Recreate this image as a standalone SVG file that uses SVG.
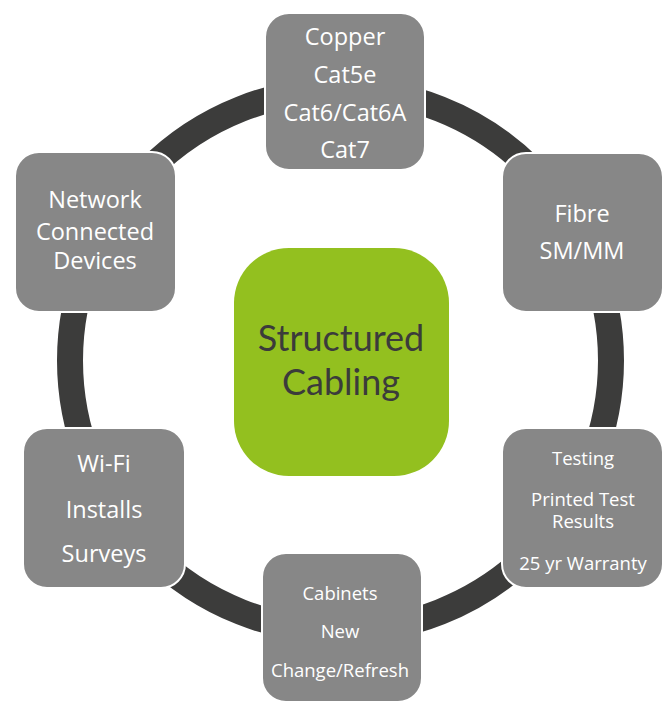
<svg xmlns="http://www.w3.org/2000/svg" width="666" height="704" viewBox="0 0 666 704">
<style>
.box{fill:#878787;stroke:#ffffff;stroke-width:2}
.t{font-family:"Open Sans","Noto Sans",sans-serif;fill:#ffffff;text-anchor:middle}
.big{font-size:23.5px}
.sm{font-size:18.5px}
.xs{font-size:18.5px}
.ct{font-family:Lato,"Open Sans",sans-serif;font-size:36px;fill:#3b3b3b;text-anchor:middle}
</style>
<rect width="666" height="704" fill="#ffffff"/>
<g id="connectors">
<circle cx="340.5" cy="360.5" r="270.5" fill="none" stroke="#3c3c3b" stroke-width="26"/>
</g>
<g id="center">
<rect x="234" y="248" width="215" height="228" rx="55" fill="#93c01f"/>
<text class="ct" x="341" y="351">Structured</text>
<text class="ct" x="341" y="395">Cabling</text>
</g>
<g id="copper">
<rect class="box" x="265" y="13" width="160" height="157" rx="24"/>
<text class="t big" x="345" y="45">Copper</text>
<text class="t big" x="345" y="83">Cat5e</text>
<text class="t big" x="345" y="121">Cat6/Cat6A</text>
<text class="t big" x="345" y="158">Cat7</text>
</g>
<g id="fibre">
<rect class="box" x="502" y="153" width="161" height="159" rx="24"/>
<text class="t big" x="582" y="222">Fibre</text>
<text class="t big" x="582" y="259">SM/MM</text>
</g>
<g id="testing">
<rect class="box" x="502" y="428" width="161" height="160" rx="24"/>
<text class="t sm" x="583" y="465">Testing</text>
<text class="t sm" x="583" y="506">Printed Test</text>
<text class="t sm" x="583" y="528">Results</text>
<text class="t sm" x="583" y="570">25 yr Warranty</text>
</g>
<g id="cabinets">
<rect class="box" x="262" y="553" width="160" height="149" rx="24"/>
<text class="t xs" x="340" y="600">Cabinets</text>
<text class="t xs" x="340" y="638">New</text>
<text class="t xs" x="340" y="677">Change/Refresh</text>
</g>
<g id="wifi">
<rect class="box" x="23" y="428" width="162" height="160" rx="24"/>
<text class="t big" x="104" y="472">Wi-Fi</text>
<text class="t big" x="104" y="518">Installs</text>
<text class="t big" x="104" y="562">Surveys</text>
</g>
<g id="network">
<rect class="box" x="15" y="152" width="161" height="160" rx="24"/>
<text class="t big" x="95" y="208">Network</text>
<text class="t big" x="95" y="240">Connected</text>
<text class="t big" x="95" y="269">Devices</text>
</g>
</svg>
